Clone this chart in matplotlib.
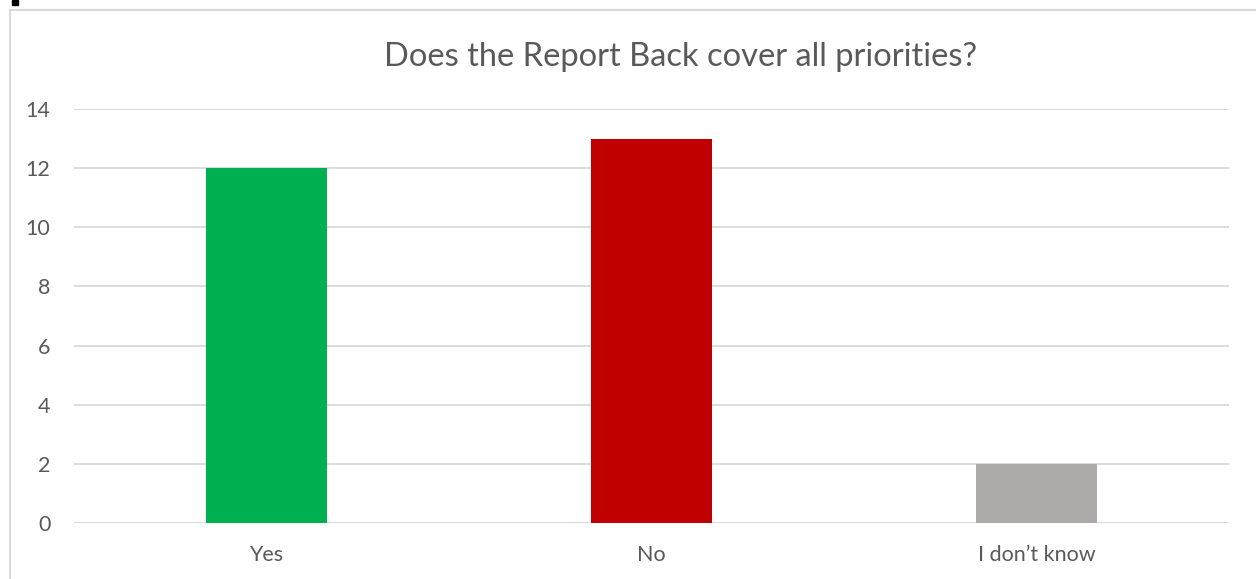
import matplotlib
matplotlib.use("Agg")
import matplotlib.pyplot as plt
from matplotlib.patches import Rectangle

categories = ["Yes", "No", "I don\u2019t know"]
counts = [12, 13, 2]
bar_colors = ["#00B050", "#C00000", "#AEAAAA"]
y_ticks = [0, 2, 4, 6, 8, 10, 12, 14]
title = "Does the Report Back cover all priorities?"

W, H = 1256, 579
fig = plt.figure(figsize=(W / 100, H / 100), dpi=100)
plt.rcParams["font.family"] = ["Lato", "DejaVu Sans"]

# chart frame (runs off the right and bottom edges)
fig.patches.append(Rectangle((10 / W, -0.1), 1.2, 1 - 10 / H + 0.1,
                             transform=fig.transFigure, fill=False,
                             edgecolor="#D9D9D9", linewidth=1.5))
fig.patches.append(Rectangle((12 / W, 1 - 5 / H), 6 / W, 5 / H,
                             transform=fig.transFigure, color="black"))

left, right = 74 / W, 1229 / W
bottom, top = 1 - 523 / H, 1 - 109 / H
ax = fig.add_axes([left, bottom, right - left, top - bottom])

x = range(len(categories))
ax.bar(x, counts, width=0.314, color=bar_colors, zorder=3)
ax.set_xlim(-0.5, len(categories) - 0.5)
ax.set_ylim(0, 14)
ax.set_yticks(y_ticks)
ax.set_xticks(list(x))
ax.set_xticklabels(categories)
ax.yaxis.grid(True, color="#D9D9D9", linewidth=1.3, zorder=0)
for s in ax.spines.values():
    s.set_visible(False)
ax.tick_params(axis="both", length=0, labelsize=15.5, colors="#595959")
ax.tick_params(axis="y", pad=17)
ax.tick_params(axis="x", pad=16)

fig.text(0.5 * (385 + 977) / W, 1 - 57 / H, title, ha="center", va="center",
         fontsize=23.5, color="#595959")

fig.savefig("out.png", dpi=100, facecolor="white")
